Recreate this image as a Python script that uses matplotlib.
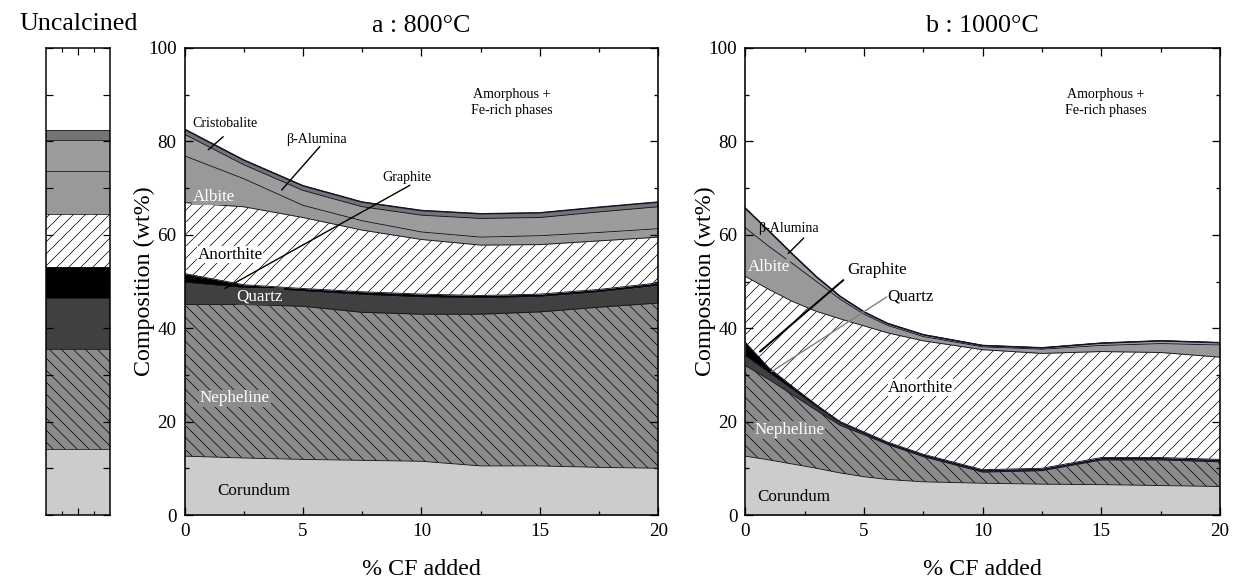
import numpy as np
import matplotlib.pyplot as plt
from matplotlib.ticker import MultipleLocator

plt.rcParams['font.family'] = ['Liberation Serif', 'DejaVu Serif']
plt.rcParams['hatch.linewidth'] = 0.7

# phase order, bottom to top (amorphous + Fe-rich phases fill the rest up to 100)
phases = ['Corundum', 'Nepheline', 'Quartz', 'Graphite',
          'Anorthite', 'Albite', 'beta-Alumina', 'Cristobalite']

# uncalcined sample, wt%
uncalcined = [14.1, 21.5, 10.8, 6.6, 11.4, 9.3, 6.6, 2.2]

# a : 800 C
x_a = [0, 2.5, 5, 7.5, 10, 12.5, 15, 17.5, 20]
a_corundum = [12.6, 12.2, 11.9, 11.7, 11.5, 10.5, 10.5, 10.2, 10.0]
a_nepheline = [32.5, 32.9, 32.8, 31.7, 31.5, 32.5, 33.0, 34.3, 35.4]
a_quartz = [4.7, 3.6, 3.3, 3.8, 3.7, 3.5, 3.3, 3.3, 3.8]
a_graphite = [1.9, 0.6, 0.5, 0.6, 0.6, 0.5, 0.5, 0.5, 0.5]
a_anorthite = [15.2, 16.7, 15.2, 13.2, 11.7, 10.8, 10.6, 10.4, 9.8]
a_albite = [10.0, 6.0, 2.6, 2.0, 1.6, 1.7, 1.9, 1.8, 1.8]
a_beta = [4.6, 3.0, 3.2, 3.0, 3.6, 4.0, 3.9, 4.4, 4.7]
a_cristobalite = [1.1, 1.0, 1.0, 1.0, 1.0, 1.0, 1.0, 1.0, 1.0]

# b : 1000 C
x_b = [0, 1, 2, 3, 4, 5, 6, 7.5, 10, 12.5, 15, 17.5, 20]
b_corundum = [12.6, 11.8, 10.9, 10.0, 9.0, 8.2, 7.6, 7.1, 6.8, 6.6, 6.5, 6.3, 6.1]
b_nepheline = [19.4, 17.2, 14.8, 12.4, 10.2, 9.0, 7.5, 5.4, 2.4, 2.9, 5.3, 5.5, 5.3]
b_quartz = [2.1, 1.5, 1.2, 0.8, 0.5, 0.3, 0.2, 0.2, 0.2, 0.2, 0.2, 0.2, 0.2]
b_graphite = [2.9, 1.0, 0.6, 0.4, 0.3, 0.3, 0.3, 0.3, 0.3, 0.3, 0.3, 0.3, 0.3]
b_anorthite = [14.1, 16.8, 18.2, 20.0, 22.0, 22.7, 23.4, 24.3, 25.7, 24.6, 22.7, 22.5, 21.9]
b_albite = [10.4, 9.2, 8.1, 6.4, 4.2, 2.5, 1.6, 0.9, 0.6, 0.9, 1.3, 1.9, 2.6]
b_beta = [4.2, 3.3, 2.0, 1.0, 0.6, 0.5, 0.4, 0.4, 0.3, 0.3, 0.5, 0.6, 0.5]
b_cristobalite = [0] * len(x_b)

styles = {
    'Corundum': ('#cccccc', None),
    'Nepheline': ('#8c8c8c', '\\\\'),
    'Quartz': ('#404040', None),
    'Graphite': ('#000000', None),
    'Anorthite': ('#ffffff', '//'),
    'Albite': ('#999999', None),
    'beta-Alumina': ('#9c9c9c', None),
    'Cristobalite': ('#747474', None),
}
LINE = '#141428'

W, H = 1233, 581
fig = plt.figure(figsize=(W / 72, H / 72), dpi=72)


def px_axes(l, t, r, b):
    return fig.add_axes([l / W, 1 - b / H, (r - l) / W, (b - t) / H])


ax_u = px_axes(46.3, 48, 110.4, 515)
ax_a = px_axes(184.6, 48, 658.3, 515)
ax_b = px_axes(745.3, 48, 1220, 515)


def stack(ax, x, layers):
    x = np.asarray(x, float)
    lower = np.zeros(len(x))
    for name, vals in zip(phases, layers):
        upper = lower + np.asarray(vals, float)
        fc, hatch = styles[name]
        ax.fill_between(x, lower, upper, facecolor=fc, hatch=hatch,
                        edgecolor='black', linewidth=0)
        ax.plot(x, upper, color=LINE, lw=0.9)
        lower = upper
    ax.plot(x, lower, color=LINE, lw=1.5)


def style_axes(ax, title):
    ax.set_xlim(0, 20)
    ax.set_ylim(0, 100)
    ax.xaxis.set_major_locator(MultipleLocator(5))
    ax.xaxis.set_minor_locator(MultipleLocator(2.5))
    ax.yaxis.set_major_locator(MultipleLocator(20))
    ax.yaxis.set_minor_locator(MultipleLocator(10))
    ax.tick_params(which='both', direction='in', top=True, right=True,
                   labelsize=19, pad=8, width=1.3)
    ax.tick_params(which='major', length=8)
    ax.tick_params(which='minor', length=4)
    for s in ax.spines.values():
        s.set_linewidth(1.6)
    ax.set_xlabel('% CF added', fontsize=24)
    ax.xaxis.set_label_coords(0.5, -0.094)
    ax.set_ylabel('Composition (wt%)', fontsize=24)
    ax.yaxis.set_label_coords(-0.062, 0.5)
    ax.set_title(title, fontsize=26, pad=16)


def label(ax, x, y, s, size=17, color='black', box=None):
    bbox = None if box is None else dict(facecolor=box, edgecolor='none', pad=0.5)
    ax.text(x, y, s, fontsize=size, color=color, ha='center', va='center', bbox=bbox)


def leader(ax, start, end, color='black', lw=1.4):
    ax.annotate('', xy=end, xytext=start,
                arrowprops=dict(arrowstyle='-', color=color, lw=lw,
                                shrinkA=0, shrinkB=0))


# uncalcined bar
bottom = 0
for name, val in zip(phases, uncalcined):
    fc, hatch = styles[name]
    ax_u.bar(0, val, width=1, bottom=bottom, facecolor=fc, hatch=hatch,
             edgecolor='black', linewidth=0)
    ax_u.axhline(bottom + val, color=LINE, lw=0.8)
    bottom += val
ax_u.set_xlim(-0.5, 0.5)
ax_u.set_ylim(0, 100)
ax_u.set_xticks([-0.25, 0.25], minor=True)
ax_u.set_xticks([0])
ax_u.yaxis.set_major_locator(MultipleLocator(10))
ax_u.tick_params(which='both', direction='in', top=True, right=True,
                 labelbottom=False, labelleft=False, width=1.2)
ax_u.tick_params(which='major', length=7)
ax_u.tick_params(which='minor', length=4)
for s in ax_u.spines.values():
    s.set_linewidth(1.5)
ax_u.set_title('Uncalcined', fontsize=26, pad=18)

# panel a
stack(ax_a, x_a, [a_corundum, a_nepheline, a_quartz, a_graphite,
                  a_anorthite, a_albite, a_beta, a_cristobalite])
style_axes(ax_a, 'a : 800°C')
ax_a.text(13.8, 88.3, 'Amorphous +\nFe-rich phases', fontsize=14,
          ha='center', va='center', linespacing=1.3)
label(ax_a, 1.72, 83.9, 'Cristobalite', size=14)
leader(ax_a, (1.63, 81.0), (1.0, 78.2))
label(ax_a, 5.57, 80.4, 'β-Alumina', size=14)
leader(ax_a, (5.71, 78.9), (4.10, 69.6))
label(ax_a, 9.40, 72.2, 'Graphite', size=14)
leader(ax_a, (9.51, 70.6), (1.70, 48.5))
label(ax_a, 1.24, 68.2, 'Albite', color='white', box='#999999')
label(ax_a, 1.92, 55.7, 'Anorthite', box='white')
label(ax_a, 3.18, 46.7, 'Quartz', color='white', box='#404040')
label(ax_a, 2.13, 25.0, 'Nepheline', color='white', box='#8c8c8c')
label(ax_a, 2.93, 5.1, 'Corundum')

# panel b
stack(ax_b, x_b, [b_corundum, b_nepheline, b_quartz, b_graphite,
                  b_anorthite, b_albite, b_beta, b_cristobalite])
style_axes(ax_b, 'b : 1000°C')
ax_b.text(15.2, 88.3, 'Amorphous +\nFe-rich phases', fontsize=14,
          ha='center', va='center', linespacing=1.3)
label(ax_b, 1.81, 61.4, 'β-Alumina', size=14)
leader(ax_b, (2.46, 59.3), (1.81, 56.0))
label(ax_b, 0.98, 53.0, 'Albite', color='white', box='#999999')
label(ax_b, 5.54, 52.5, 'Graphite')
leader(ax_b, (4.13, 50.3), (0.62, 35.0), lw=2)
label(ax_b, 6.94, 46.7, 'Quartz')
leader(ax_b, (5.96, 46.7), (1.11, 30.7), color='#808080')
label(ax_b, 7.39, 27.3, 'Anorthite', box='white')
label(ax_b, 1.88, 18.2, 'Nepheline', color='white', box='#8c8c8c')
label(ax_b, 2.03, 3.8, 'Corundum')

fig.savefig('out.png', dpi=72)
